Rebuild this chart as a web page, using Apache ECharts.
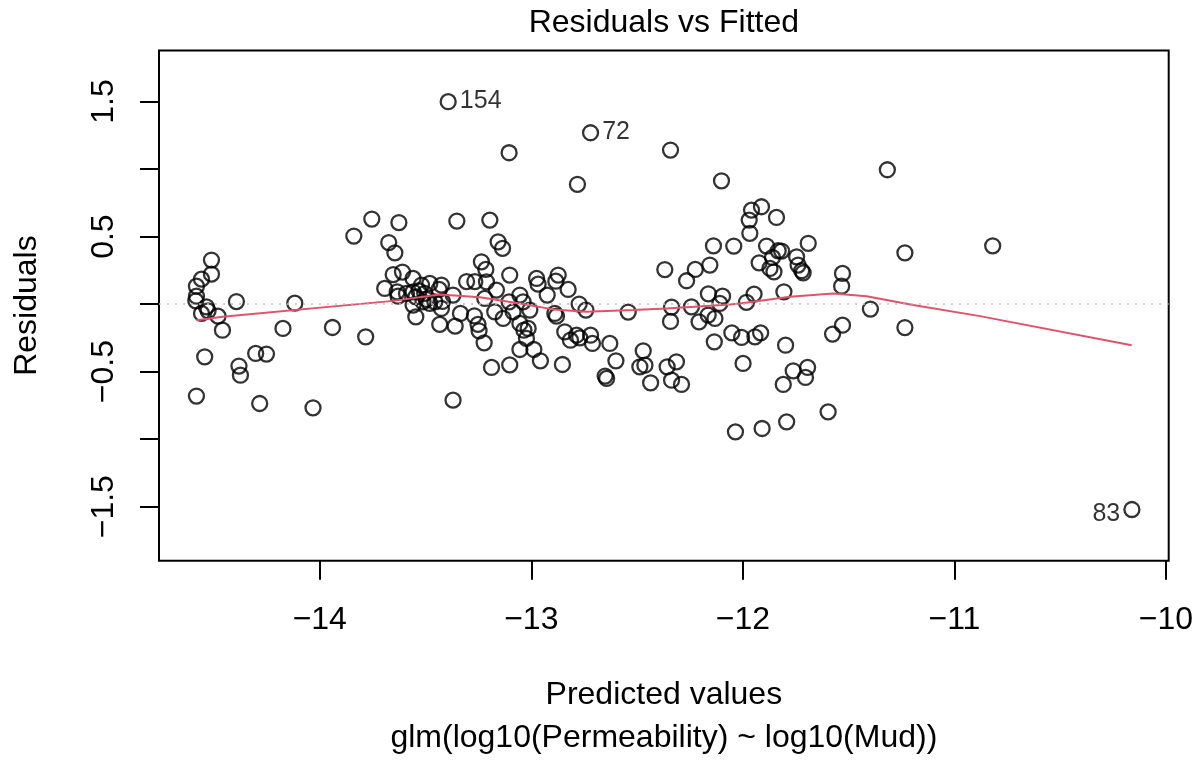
<!DOCTYPE html>
<html>
<head>
<meta charset="utf-8">
<script src="https://cdn.jsdelivr.net/npm/echarts@6/dist/echarts.min.js"></script>
<style>
  html, body { margin: 0; padding: 0; background: #ffffff; }
  #chart { width: 1203px; height: 760px; }
</style>
</head>
<body>
<div id="chart"></div>
<script>
// Fitted values (x) and residuals (y) of the model
const fittedX = [
  -14.512, -14.512, -14.559, -14.583, -14.583, -14.586, -14.536, -14.528, -14.559, -14.481,
  -14.460, -14.394, -14.118, -14.174, -13.940, -13.783, -14.544, -14.382, -14.375, -14.303,
  -14.252, -14.583, -14.284, -14.032, -13.839, -13.754, -13.693, -13.674, -13.645, -13.626,
  -13.653, -13.609, -13.559, -13.634, -13.630, -13.590, -13.559, -13.531, -13.519, -13.480,
  -13.425, -13.436, -13.546, -13.504, -13.496, -13.512, -13.559, -13.546, -13.480, -13.456,
  -13.425, -13.420, -13.370, -13.335, -13.433, -13.360, -13.352, -13.306, -13.267, -13.212,
  -13.215, -13.236, -13.196, -13.157, -13.136, -13.165, -13.220, -13.269, -13.252, -13.247,
  -13.223, -13.173, -13.133, -13.102, -13.105, -13.086, -13.054, -13.039, -13.007, -13.054,
  -13.035, -13.015, -13.023, -13.054, -12.988, -12.957, -13.188, -13.102, -13.370, -13.105,
  -12.975, -12.968, -12.873, -12.884, -12.826, -12.925, -12.889, -12.881, -12.774, -12.742,
  -12.853, -12.842, -12.815, -12.786, -12.771, -12.720, -12.711, -12.629, -12.600, -12.651,
  -12.644, -12.542, -12.471, -12.487, -12.463, -12.436, -12.358, -12.314, -12.337, -12.290,
  -12.369, -12.266, -12.225, -12.156, -12.337, -12.342, -12.243, -12.207, -12.164, -12.132,
  -12.163, -12.096, -12.109, -12.135, -12.782, -12.342, -12.101, -12.139, -12.043, -11.959,
  -11.912, -11.970, -11.967, -11.841, -11.888, -11.860, -11.833, -11.817, -11.691, -11.746,
  -11.739, -11.722, -11.715, -11.923, -11.872, -11.853, -11.529, -11.533, -11.947, -11.983,
  -11.806, -11.397, -11.317, -11.234, -11.234, -10.819, -12.052, -12.006, -11.943, -11.916,
  -11.529, -11.576, -11.798, -11.999, -11.762, -11.694, -11.704, -11.809, -11.597, -12.035,
  -11.909, -11.793
];
const residY = [
   0.326,  0.222,  0.185,  0.133,  0.059,  0.024, -0.020, -0.050, -0.069, -0.089,
  -0.193,  0.019,  0.007, -0.180, -0.173, -0.242, -0.390, -0.459, -0.526, -0.365,
  -0.370, -0.681, -0.736, -0.768,  0.504,  0.630,  0.116,  0.456,  0.380,  0.604,
   0.219,  0.237,  0.190,  0.091,  0.059,  0.079,  0.091,  0.099,  0.141,  0.153,
   0.141,  0.109,  0.054,  0.079,  0.035,  0.017, -0.007, -0.094,  0.005,  0.017,
  -0.032,  0.020,  0.067, -0.069, -0.150, -0.163,  0.615,  0.167,  0.167,  0.165,
   0.257,  0.313,  0.622,  0.461,  0.413,  0.104,  0.042, -0.087, -0.150, -0.198,
  -0.287, -0.057, -0.106,  0.215,  0.017, -0.057,  0.067,  0.017, -0.044, -0.143,
  -0.193, -0.180, -0.254, -0.336, -0.336, -0.420, -0.469, -0.450, -0.711,  1.121,
   0.190,  0.148,  0.215,  0.170,  0.109,  0.067, -0.069, -0.089,  0.000, -0.044,
  -0.447, -0.205, -0.267, -0.230, -0.250, -0.230, -0.291, -0.291, -0.420, -0.533,
  -0.550, -0.059, -0.346, -0.464, -0.452, -0.583, -0.464, -0.427, -0.563, -0.595,
   0.256,  0.173,  0.257,  0.289, -0.022, -0.128, -0.020, -0.131, -0.081, -0.106,
   0.076,  0.059,  0.005, -0.279,  0.887,  1.141,  0.913,  0.432,  0.430,  0.696,
   0.721,  0.622,  0.524,  0.642,  0.430,  0.346,  0.395,  0.393,  0.450,  0.350,
   0.289,  0.247,  0.232,  0.306,  0.264,  0.239,  0.227,  0.133,  0.074,  0.013,
   0.091, -0.037,  0.995,  0.380, -0.174,  0.432, -0.213, -0.247, -0.242, -0.213,
  -0.156, -0.222, -0.304, -0.439, -0.494, -0.469, -0.543, -0.595, -0.798, -0.946,
  -0.921, -0.872
];

// Observations flagged with their row number
const idX = [-13.393, -12.720, -10.161];
const idY = [1.499, 1.269, -1.521];
const idLabels = ['154', '72', '83'];
const idSide = ['right', 'right', 'left'];

// Smoothed trend of residuals against fitted values
const smoothX = [-14.583, -14.460, -13.653, -13.433, -13.243, -13.054, -12.897, -12.739, -12.519,
                 -12.361, -12.061, -12.014, -11.778, -11.573, -11.415, -11.195, -10.879, -10.162];
const smoothY = [-0.119, -0.094, 0.024, 0.072, 0.050, 0.005, -0.039, -0.057, -0.044,
                 -0.032, -0.002, 0.005, 0.054, 0.079, 0.059, -0.007, -0.089, -0.304];

// Axis ticks
const xTicks = [-14, -13, -12, -11, -10];
const yTicks = [-1.5, -1, -0.5, 0, 0.5, 1, 1.5];
const yTickLabels = [-1.5, -0.5, 0.5, 1.5];

const titleText = 'Residuals vs Fitted';
const xName = 'Predicted values';
const yName = 'Residuals';
const subText = 'glm(log10(Permeability) ~ log10(Mud))';

const FONT = "'Liberation Sans', Arial, Helvetica, sans-serif";
const FS = 32;
const W = 1203, H = 760;
const grid = { left: 159, top: 50.5, right: 34.3, bottom: 199.3 };
const plotCX = grid.left + (W - grid.left - grid.right) / 2;

const minusSign = v => String(v).replace('-', '\u2212');

// open circles, no fill so overlapping points stay visible
const pointStyle = {
  color: 'rgba(0,0,0,0)',
  borderColor: '#000000',
  borderWidth: 2.3
};

const chart = echarts.init(document.getElementById('chart'), null, { renderer: 'canvas', width: W, height: H });

chart.setOption({
  animation: false,
  backgroundColor: '#ffffff',
  textStyle: { fontFamily: FONT },
  grid: {
    left: grid.left, top: grid.top, right: grid.right, bottom: grid.bottom,
    show: true, borderColor: '#000000', borderWidth: 2, backgroundColor: 'transparent'
  },
  xAxis: {
    type: 'value',
    min: -14.76, max: -9.987,
    axisLine: { show: false, onZero: false },
    splitLine: { show: false },
    axisTick: { show: true, length: 19, inside: false, customValues: xTicks,
                lineStyle: { color: '#000', width: 2 } },
    axisLabel: { customValues: xTicks, margin: 43, fontSize: FS, lineHeight: FS,
                 color: '#000', fontFamily: FONT, formatter: v => minusSign(v) },
    name: xName, nameLocation: 'middle', nameGap: 118,
    nameTextStyle: { fontSize: FS, lineHeight: FS, color: '#000', fontFamily: FONT }
  },
  yAxis: {
    type: 'value',
    min: -1.90, max: 1.878,
    axisLine: { show: false, onZero: false },
    splitLine: { show: false },
    axisTick: { show: true, length: 19, inside: false, customValues: yTicks,
                lineStyle: { color: '#000', width: 2 } },
    axisLabel: { customValues: yTickLabels, rotate: 90, margin: 39, fontSize: FS, lineHeight: FS,
                 color: '#000', fontFamily: FONT, formatter: v => minusSign(v) },
    name: yName, nameLocation: 'middle', nameGap: 116, nameRotate: 90,
    nameTextStyle: { fontSize: FS, lineHeight: FS, color: '#000', fontFamily: FONT }
  },
  graphic: [
    { type: 'text', x: plotCX, y: 23, silent: true,
      style: { text: titleText, font: FS + 'px ' + FONT, fill: '#000', align: 'center', verticalAlign: 'middle' } },
    { type: 'text', x: plotCX, y: 738, silent: true,
      style: { text: subText, font: FS + 'px ' + FONT, fill: '#000', align: 'center', verticalAlign: 'middle' } }
  ],
  series: [
    {
      type: 'scatter',
      symbol: 'circle',
      symbolSize: 15,
      itemStyle: pointStyle,
      emphasis: { disabled: true },
      data: fittedX.map((x, i) => [x, residY[i]]),
      z: 2
    },
    {
      type: 'scatter',
      symbol: 'circle',
      symbolSize: 15,
      itemStyle: pointStyle,
      emphasis: { disabled: true },
      label: { show: true, formatter: p => p.name, fontSize: 25, color: '#000',
               fontFamily: FONT, distance: 3 },
      data: idX.map((x, i) => ({
        value: [x, idY[i]], name: idLabels[i],
        label: { position: idSide[i], offset: idSide[i] === 'left' ? [0, 5] : [0, -1] }
      })),
      z: 2
    },
    {
      type: 'line',
      data: smoothX.map((x, i) => [x, smoothY[i]]),
      showSymbol: false,
      symbol: 'none',
      smooth: false,
      lineStyle: { color: '#DF536B', width: 2 },
      z: 3,
      markLine: {
        silent: true,
        symbol: ['none', 'none'],
        label: { show: false },
        lineStyle: { color: '#BEBEBE', type: [2, 6], width: 1.6 },
        data: [{ yAxis: 0 }]
      }
    }
  ]
});
</script>
</body>
</html>
